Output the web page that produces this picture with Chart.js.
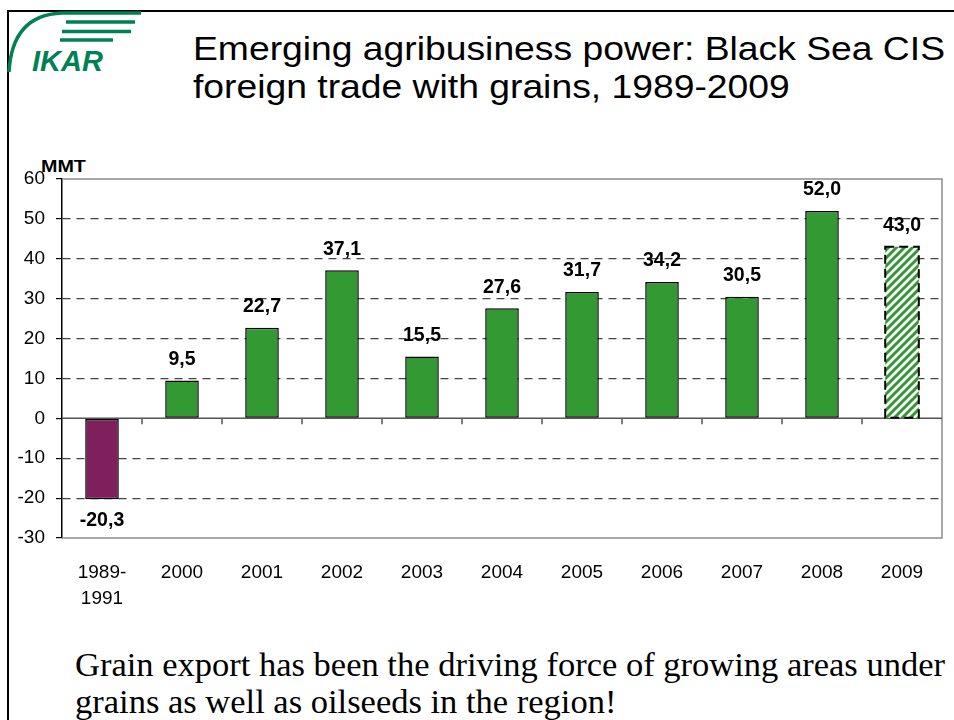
<!DOCTYPE html>
<html>
<head>
<meta charset="utf-8">
<script src="https://cdn.jsdelivr.net/npm/chart.js@4.4.1/dist/chart.umd.min.js"></script>
<style>
	html, body { margin: 0; padding: 0; background: #fff; }
	#page { position: relative; width: 954px; height: 720px; overflow: hidden; }
	#frame { position: absolute; left: 7px; top: 10px; width: 1000px; height: 800px; border: 2px solid #000; box-sizing: border-box; }
	#logo { position: absolute; left: 0; top: 0; }
	.title { position: absolute; left: 193px; font-family: "Liberation Sans", Arial, sans-serif; font-size: 33px; color: #000; white-space: nowrap; line-height: 1; transform-origin: 0 0; }
	.note { position: absolute; left: 75px; font-family: "Liberation Serif", "Times New Roman", serif; font-size: 34.5px; color: #000; white-space: nowrap; line-height: 1; transform-origin: 0 0; }
	#unit { position: absolute; left: 41px; top: 157px; font: bold 17px "Liberation Sans", Arial, sans-serif; transform: scaleX(1.16); transform-origin: 0 0; }
	#chart { position: absolute; left: 0; top: 0; }
</style>
</head>
<body>
<div id="page">
	<div id="frame"></div>
	<svg id="logo" width="160" height="80">
		<g fill="none" stroke="#008055" stroke-width="3.5">
			<path d="M9 72 Q12 15 62 13 L141 13"/>
			<line x1="66" y1="22" x2="135" y2="22"/>
			<line x1="62" y1="31.5" x2="131" y2="31.5"/>
			<line x1="60" y1="40" x2="113" y2="40"/>
		</g>
		<text x="32" y="71" fill="#008055" font-family="'Liberation Sans', Arial, sans-serif" font-weight="bold" font-style="italic" font-size="29">IKAR</text>
	</svg>
	<div class="title" style="top:32px">Emerging agribusiness power: Black Sea CIS</div>
	<div class="title" style="top:70px">foreign trade with grains, 1989-2009</div>
	<div id="unit">MMT</div>
	<div class="note" style="top:647px">Grain export has been the driving force of growing areas under</div>
	<div class="note" style="top:684px">grains as well as oilseeds in the region!</div>
	<canvas id="chart" width="954" height="720"></canvas>
</div>
<script>
// grain trade balance, million metric tons
var years = [['1989-', '1991'], '2000', '2001', '2002', '2003', '2004', '2005', '2006', '2007', '2008', '2009'];
var tradeMMT = [-20.3, 9.5, 22.7, 37.1, 15.5, 27.6, 31.7, 34.2, 30.5, 52.0, 43.0];
var yTicks = [60, 50, 40, 30, 20, 10, 0, -10, -20, -30];

var font = '"Liberation Sans", Arial, sans-serif';
var green = '#339933';
var purple = '#7f1f5c';

// fit a group of text lines so the first one spans the given width
var fitLines = function(sel, width) {
	var lines = document.querySelectorAll(sel);
	var k = width / lines[0].getBoundingClientRect().width;
	lines.forEach(function(m) { m.style.transform = 'scaleX(' + k + ')'; });
};
fitLines('.title', 752);
fitLines('.note', 870);

// diagonal green/white hatching for the forecast year
var makeHatch = function() {
	var c = document.createElement('canvas');
	c.width = 8; c.height = 8;
	var g = c.getContext('2d');
	g.fillStyle = '#fff';
	g.fillRect(0, 0, 8, 8);
	g.strokeStyle = green;
	g.lineWidth = 3;
	g.beginPath();
	g.moveTo(-2, 10); g.lineTo(10, -2);
	g.moveTo(-2, 2); g.lineTo(2, -2);
	g.moveTo(6, 10); g.lineTo(10, 6);
	g.stroke();
	return g.createPattern(c, 'repeat');
};
var hatch = makeHatch();
var last = tradeMMT.length - 1;

var fills = tradeMMT.map(function(v, i) {
	if (i === last) return hatch;
	return v < 0 ? purple : green;
});
var borders = tradeMMT.map(function(v, i) { return i === last ? 0 : 1.5; });

var fmt = function(v) { return v.toFixed(1).replace('.', ','); };

var framePlugin = {
	id: 'frame',
	beforeDatasetsDraw: function(chart) {
		var a = chart.chartArea, ctx = chart.ctx;
		var y = chart.scales.y, x = chart.scales.x;
		var zero = y.getPixelForValue(0);
		ctx.save();
		// plot outline (top, right, bottom)
		ctx.strokeStyle = '#8c8c8c';
		ctx.lineWidth = 1.5;
		ctx.beginPath();
		ctx.moveTo(a.left, a.top); ctx.lineTo(a.right, a.top);
		ctx.lineTo(a.right, a.bottom); ctx.lineTo(a.left, a.bottom);
		ctx.stroke();
		// zero line with category separators
		ctx.strokeStyle = '#555';
		ctx.beginPath();
		ctx.moveTo(a.left, zero); ctx.lineTo(a.right, zero);
		for (var i = 1; i < years.length; i++) {
			var px = (x.getPixelForValue(i - 1) + x.getPixelForValue(i)) / 2;
			ctx.moveTo(px, zero); ctx.lineTo(px, zero + 6);
		}
		ctx.stroke();
		ctx.restore();
	},
	afterDatasetsDraw: function(chart) {
		var ctx = chart.ctx;
		var meta = chart.getDatasetMeta(0);
		ctx.save();
		// dashed outline of the forecast bar
		var el = meta.data[last];
		var p = el.getProps(['x', 'y', 'base', 'width'], true);
		ctx.strokeStyle = '#000';
		ctx.lineWidth = 2;
		ctx.setLineDash([9, 5]);
		ctx.strokeRect(p.x - p.width / 2, p.y, p.width, p.base - p.y);
		ctx.setLineDash([]);
		// value labels
		ctx.fillStyle = '#000';
		ctx.font = 'bold 19.5px ' + font;
		ctx.textAlign = 'center';
		ctx.textBaseline = 'middle';
		meta.data.forEach(function(bar, i) {
			var v = tradeMMT[i];
			var b = bar.getProps(['x', 'y'], true);
			ctx.fillText(fmt(v), b.x, v < 0 ? b.y + 21 : b.y - 21);
		});
		ctx.restore();
	}
};

new Chart(document.getElementById('chart'), {
	type: 'bar',
	data: {
		labels: years,
		datasets: [{
			data: tradeMMT,
			backgroundColor: fills,
			borderColor: '#000',
			borderWidth: borders,
			borderSkipped: false,
			categoryPercentage: 1,
			barPercentage: 0.42
		}]
	},
	options: {
		responsive: false,
		animation: false,
		layout: { padding: { top: 179, right: 12, left: 0, bottom: 0 } },
		plugins: { legend: { display: false }, tooltip: { enabled: false } },
		scales: {
			x: {
				grid: { display: false },
				border: { display: false },
				ticks: { color: '#000', padding: 13, maxRotation: 0, font: { family: font, size: 19, lineHeight: 1.4 } },
				afterFit: function(s) { s.height = 182; }
			},
			y: {
				min: -30,
				max: 60,
				afterBuildTicks: function(s) { s.ticks = yTicks.map(function(v) { return { value: v }; }); },
				grid: {
					color: function(c) {
						var v = c.tick && c.tick.value;
						return (v === 60 || v === 0 || v === -30) ? 'rgba(0,0,0,0)' : '#444';
					},
					lineWidth: 1.2,
					tickColor: '#000',
					tickLength: 6
				},
				border: { display: true, color: '#000', width: 1.5, dash: [8, 6] },
				ticks: { color: '#000', padding: 11, font: { family: font, size: 19 } },
				afterFit: function(s) { s.width = 62; }
			}
		}
	},
	plugins: [framePlugin]
});
</script>
</body>
</html>
